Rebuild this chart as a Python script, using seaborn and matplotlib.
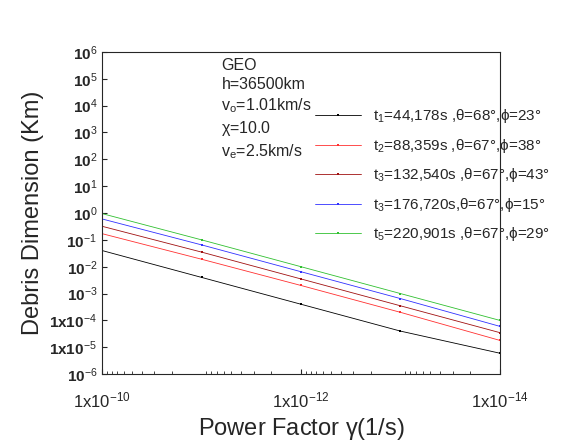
import matplotlib
matplotlib.use("Agg")
import matplotlib.pyplot as plt
import seaborn as sns
import pandas as pd

sns.set_style("ticks")
plt.rcParams["font.family"] = ["Liberation Sans", "DejaVu Sans"]
plt.rcParams["mathtext.fontset"] = "custom"
plt.rcParams["mathtext.rm"] = "Liberation Sans"
plt.rcParams["mathtext.it"] = "Liberation Sans"

gamma = [1e-10, 1e-11, 1e-12, 1e-13, 1e-14]
labels = [
    r"t$_1$=44,178s ,$\theta$=68°,$\phi$=23°",
    r"t$_2$=88,359s ,$\theta$=67°,$\phi$=38°",
    r"t$_3$=132,540s ,$\theta$=67°,$\phi$=43°",
    r"t$_3$=176,720s,$\theta$=67°,$\phi$=15°",
    r"t$_5$=220,901s ,$\theta$=67°,$\phi$=29°",
]
values = [
    [0.04, 4e-3, 4e-4, 4e-5, 6e-6],
    [0.17, 0.019, 2e-3, 2e-4, 1.8e-5],
    [0.32, 0.035, 3.5e-3, 3.5e-4, 3.5e-5],
    [0.6, 0.065, 6.5e-3, 6.5e-4, 6e-5],
    [0.95, 0.1, 0.01, 1e-3, 1e-4],
]
colors = ["black", "#ff3030", "#a01010", "#3030ff", "#30c030"]

rows = []
for lab, vals in zip(labels, values):
    for g, v in zip(gamma, vals):
        rows.append({"gamma": g, "dim": v, "series": lab})
df = pd.DataFrame(rows)

fig = plt.figure(figsize=(5.8, 4.47), dpi=100)
ax = fig.add_axes([0.176, 0.163, 0.686, 0.721])
sns.lineplot(data=df, x="gamma", y="dim", hue="series", palette=colors,
             marker="s", markersize=1.8, markeredgewidth=0, linewidth=0.6, ax=ax)
ax.set_xscale("log")
ax.set_yscale("log")
ax.set_xlim(1e-10, 1e-14)
ax.set_ylim(1e-6, 1e6)
ax.set_xticks([1e-10, 1e-12, 1e-14])
ax.set_xticklabels([r"1x10$^{-10}$", r"1x10$^{-12}$", r"1x10$^{-14}$"], fontsize=12)
yt = [10.0 ** k for k in range(-6, 7)]
ylab = []
for k in range(-6, 7):
    if k in (-5, -4):
        ylab.append(r"1x10$^{%d}$" % k)
    else:
        ylab.append(r"10$^{%d}$" % k)
ax.set_yticks(yt)
ax.set_yticklabels(ylab, fontsize=11, fontweight="bold")
ax.tick_params(direction="in", which="both")
ax.tick_params(axis="x", pad=12)
ax.set_xlabel(r"Power Factor $\gamma$(1/s)", fontsize=17)
ax.set_ylabel("Debris Dimension (Km)", fontsize=17)
ax.legend(frameon=False, fontsize=11, loc="upper left", bbox_to_anchor=(0.5, 0.87),
          handlelength=3, labelspacing=0.75, title=None)
ax.text(0.3, 0.98, "GEO\nh=36500km\n" + r"v$_o$=1.01km/s" + "\n" + r"$\chi$=10.0" + "\n" + r"v$_e$=2.5km/s",
        transform=ax.transAxes, va="top", fontsize=11.5, linespacing=1.3)
fig.savefig("out.png", dpi=100)
